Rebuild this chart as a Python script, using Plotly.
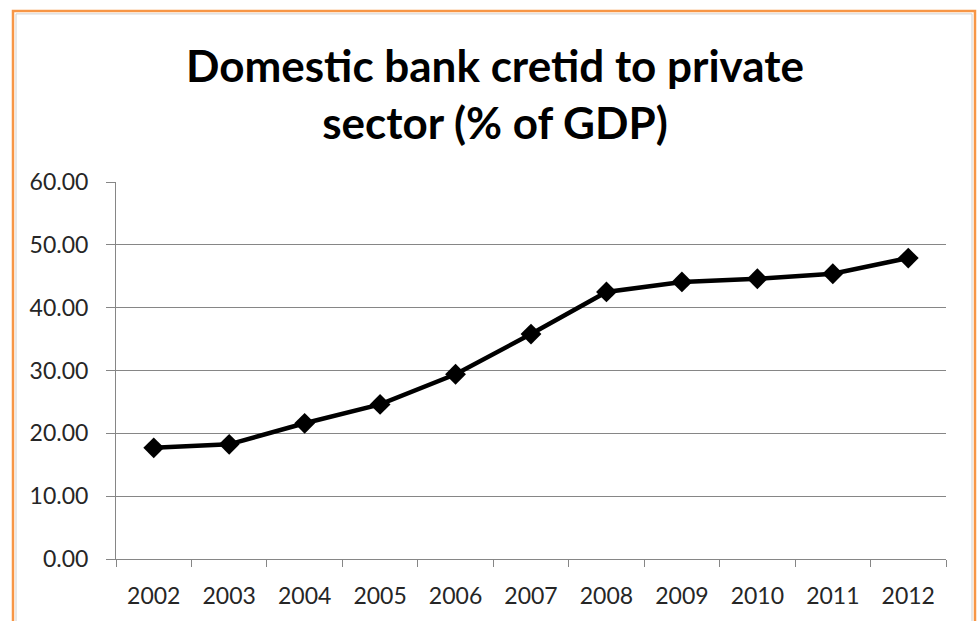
import plotly.graph_objects as go

years = ["2002", "2003", "2004", "2005", "2006", "2007", "2008", "2009", "2010", "2011", "2012"]
credit_pct_gdp = [17.7, 18.25, 21.6, 24.6, 29.4, 35.8, 42.5, 44.1, 44.6, 45.4, 47.9]
y_ticks = [0, 10, 20, 30, 40, 50, 60]

W, H = 978, 621
L, T = 116, 182
R = W - 946
B = H - 561
pw, ph = W - L - R, H - T - B

def px_x(x):
    return (x - L) / pw

def px_y(y):
    return (H - B - y) / ph

fig = go.Figure()
fig.add_trace(go.Scatter(
    x=years, y=credit_pct_gdp, mode="lines+markers",
    line=dict(color="black", width=4.5),
    marker=dict(symbol="diamond", size=16, color="black"),
    showlegend=False, cliponaxis=False,
))

axis_gray = "#868686"
fig.update_layout(
    width=W, height=H,
    margin=dict(l=L, r=R, t=T, b=B),
    paper_bgcolor="white", plot_bgcolor="white",
    font=dict(family="Lato", color="#262626"),
    title=dict(
        text="<b>Domestic bank cretid to private<br>sector (% of GDP)</b>",
        x=495 / W, xanchor="center", xref="container",
        y=1 - 82 / H, yanchor="middle", yref="container",
        font=dict(family="Lato", size=44, color="black"),
    ),
    xaxis=dict(
        type="category", range=[-0.5, len(years) - 0.5],
        showgrid=False, showline=True, linecolor=axis_gray, linewidth=1,
        ticks="outside", tickson="boundaries", ticklen=7, tickcolor=axis_gray,
        tickfont=dict(size=23, color="#262626"), ticklabelstandoff=16,
        fixedrange=True,
    ),
    yaxis=dict(
        range=[0, 60], tickvals=y_ticks, tickformat=".2f",
        showgrid=True, gridcolor=axis_gray, gridwidth=1,
        showline=True, linecolor=axis_gray, linewidth=1,
        ticks="outside", ticklen=9, tickcolor=axis_gray,
        tickfont=dict(size=23, color="#262626"), ticklabelstandoff=13,
        zeroline=False, fixedrange=True,
    ),
    shapes=[
        dict(type="rect", xref="paper", yref="paper",
             x0=px_x(16), x1=px_x(972), y0=px_y(640), y1=px_y(13),
             line=dict(color="#d0d0d0", width=1), layer="below"),
        dict(type="rect", xref="paper", yref="paper",
             x0=px_x(13), x1=px_x(975), y0=px_y(640), y1=px_y(10),
             line=dict(color="#F79646", width=2.5), layer="below"),
    ],
)

fig.write_html(
    "out.html",
    config={"displayModeBar": False},
    post_script="document.body.style.margin='0';document.body.style.overflow='hidden';",
)
